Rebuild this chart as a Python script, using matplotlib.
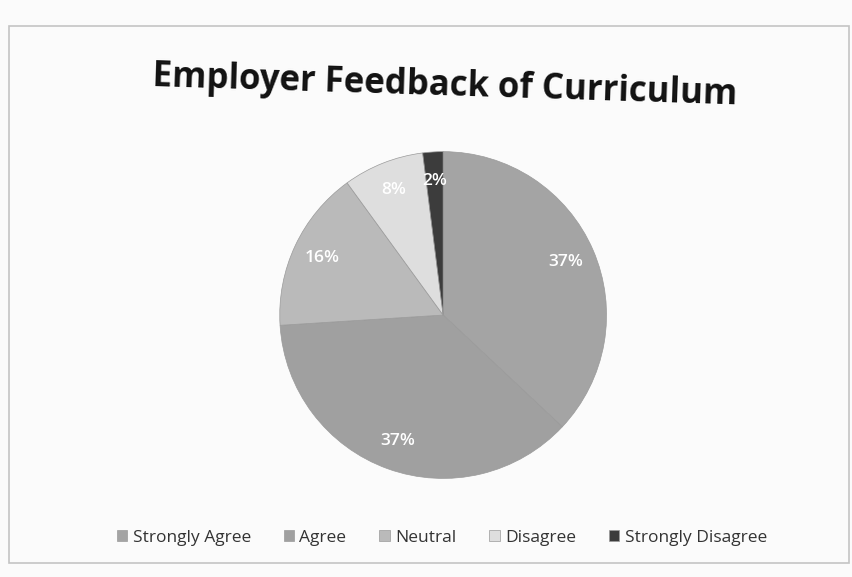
import matplotlib.pyplot as plt
from matplotlib.patches import Rectangle

# Survey responses, share of employers (%)
categories = ['Strongly Agree', 'Agree', 'Neutral', 'Disagree', 'Strongly Disagree']
shares = [37, 37, 16, 8, 2]
colors = ['#a4a4a4', '#a0a0a0', '#bababa', '#dedede', '#3c3c3c']

plt.rcParams['font.family'] = ['Open Sans', 'DejaVu Sans']

fig = plt.figure(figsize=(8.53, 5.77), dpi=100)
fig.patch.set_facecolor('#fbfbfb')

# faint chart-area frame
fig.add_artist(Rectangle((0.01, 0.025), 0.985, 0.93, transform=fig.transFigure,
                         fill=False, edgecolor='#c4c4c4', linewidth=1.2))

ax = fig.add_axes([0.326, 0.168, 0.387, 0.572])
wedges, texts, autotexts = ax.pie(
    shares, colors=colors, startangle=90, counterclock=False,
    autopct='%d%%', pctdistance=0.82,
    wedgeprops=dict(edgecolor='#9a9a9a', linewidth=0.5),
    textprops=dict(color='white', fontsize=12.5, fontweight='semibold'))
ax.set_xlim(-1.01, 1.01)
ax.set_ylim(-1.01, 1.01)
ax.set_aspect('equal')

fig.text(0.522, 0.85, 'Employer Feedback of Curriculum', ha='center', va='center',
         fontsize=25, fontweight='bold', color='#111111', rotation=-1.8)

leg = fig.legend(wedges, categories, loc='center', bbox_to_anchor=(0.518, 0.068),
                 ncol=5, frameon=False, fontsize=12.5, handlelength=0.6,
                 handleheight=0.6, handletextpad=0.3, columnspacing=1.9)
for t in leg.get_texts():
    t.set_color('#333333')

fig.savefig('out.png', dpi=100, facecolor=fig.get_facecolor())
